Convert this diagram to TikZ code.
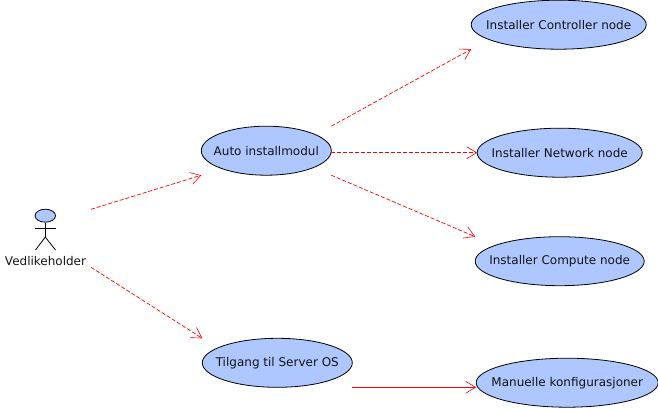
\documentclass[tikz,border=0pt]{standalone}
\usepackage{fontspec}
\setmainfont{DejaVu Sans}
\usetikzlibrary{arrows.meta, shapes.geometric}
\definecolor{ucblue}{RGB}{175,199,255}
\tikzset{
  usecase/.style={ellipse, draw=black, fill=ucblue, line width=0.8pt, inner sep=0pt, outer sep=0pt, minimum height=49pt, text=black!92},
  actorhead/.style={ellipse, draw=black, fill=ucblue, line width=0.8pt, inner sep=0pt, minimum width=20.5pt, minimum height=13pt},
  stick/.style={draw=black, line width=0.8pt},
  depends/.style={draw=red, line width=0.7pt, dash pattern=on 4pt off 2pt, -{Straight Barb[length=10pt,width=12pt,line width=0.6pt,sep=0pt]}},
  uses/.style={draw=red, line width=0.7pt, -{Straight Barb[length=10pt,width=12pt,line width=0.6pt,sep=0pt]}}
}
\newcommand{\uclabel}[1]{\makebox[0pt]{#1}}
\begin{document}
\begin{tikzpicture}[x=1pt, y=1pt, font=\fontsize{12pt}{14pt}\selectfont]
          \useasboundingbox (0,0) rectangle (658,-407);

          \node[actorhead] (head) at (45.3,-215.7) {};
          \draw[stick] (head.south) -- ++(0,-14.5) coordinate (hip);
          \draw[stick] (35,-228.3) coordinate (armleft) -- (56,-228.3) coordinate (armright);
          \draw[stick] (hip) -- (35.5,-250) coordinate (footleft);
          \draw[stick] (hip) -- (55.5,-250) coordinate (footright);
          \node[text=black!92] (actor) at (45.5,-260.8) {Vedlikeholder};
          \coordinate (actorup) at (91,-209.3);
          \coordinate (actordown) at (91,-267.3);

          \node[usecase, minimum width=130pt] (auto) at (266.3,-150.7) {\uclabel{Auto installmodul}};
          \node[usecase, minimum width=150pt] (tilgang) at (277.3,-362.8) {\uclabel{Tilgang til Server OS}};

          \node[usecase, minimum width=175pt] (controller) at (558.7,-24.7) {\uclabel{Installer Controller node}};
          \node[usecase, minimum width=165pt] (network) at (559.7,-152.7) {\uclabel{Installer Network node}};
          \node[usecase, minimum width=169pt] (compute) at (559.7,-261.2) {\uclabel{Installer Compute node}};
          \node[usecase, minimum width=182pt] (manuelle) at (567.2,-382.7) {\uclabel{Manuelle konfigurasjoner}};

          \draw[depends] (actorup) -- (auto.west |- auto.south);
          \draw[depends] (actordown) -- (tilgang.west |- tilgang.north);

          \draw[depends] (auto.east |- auto.north) -- (controller.west |- controller.south);
          \draw[depends] (auto.east |- network.west) -- (network.west);
          \draw[depends] (auto.east |- auto.south) -- (compute.west |- compute.north);

          \draw[uses] (tilgang.east |- tilgang.south) -- (manuelle.west |- tilgang.south);
        \end{tikzpicture}
\end{document}
